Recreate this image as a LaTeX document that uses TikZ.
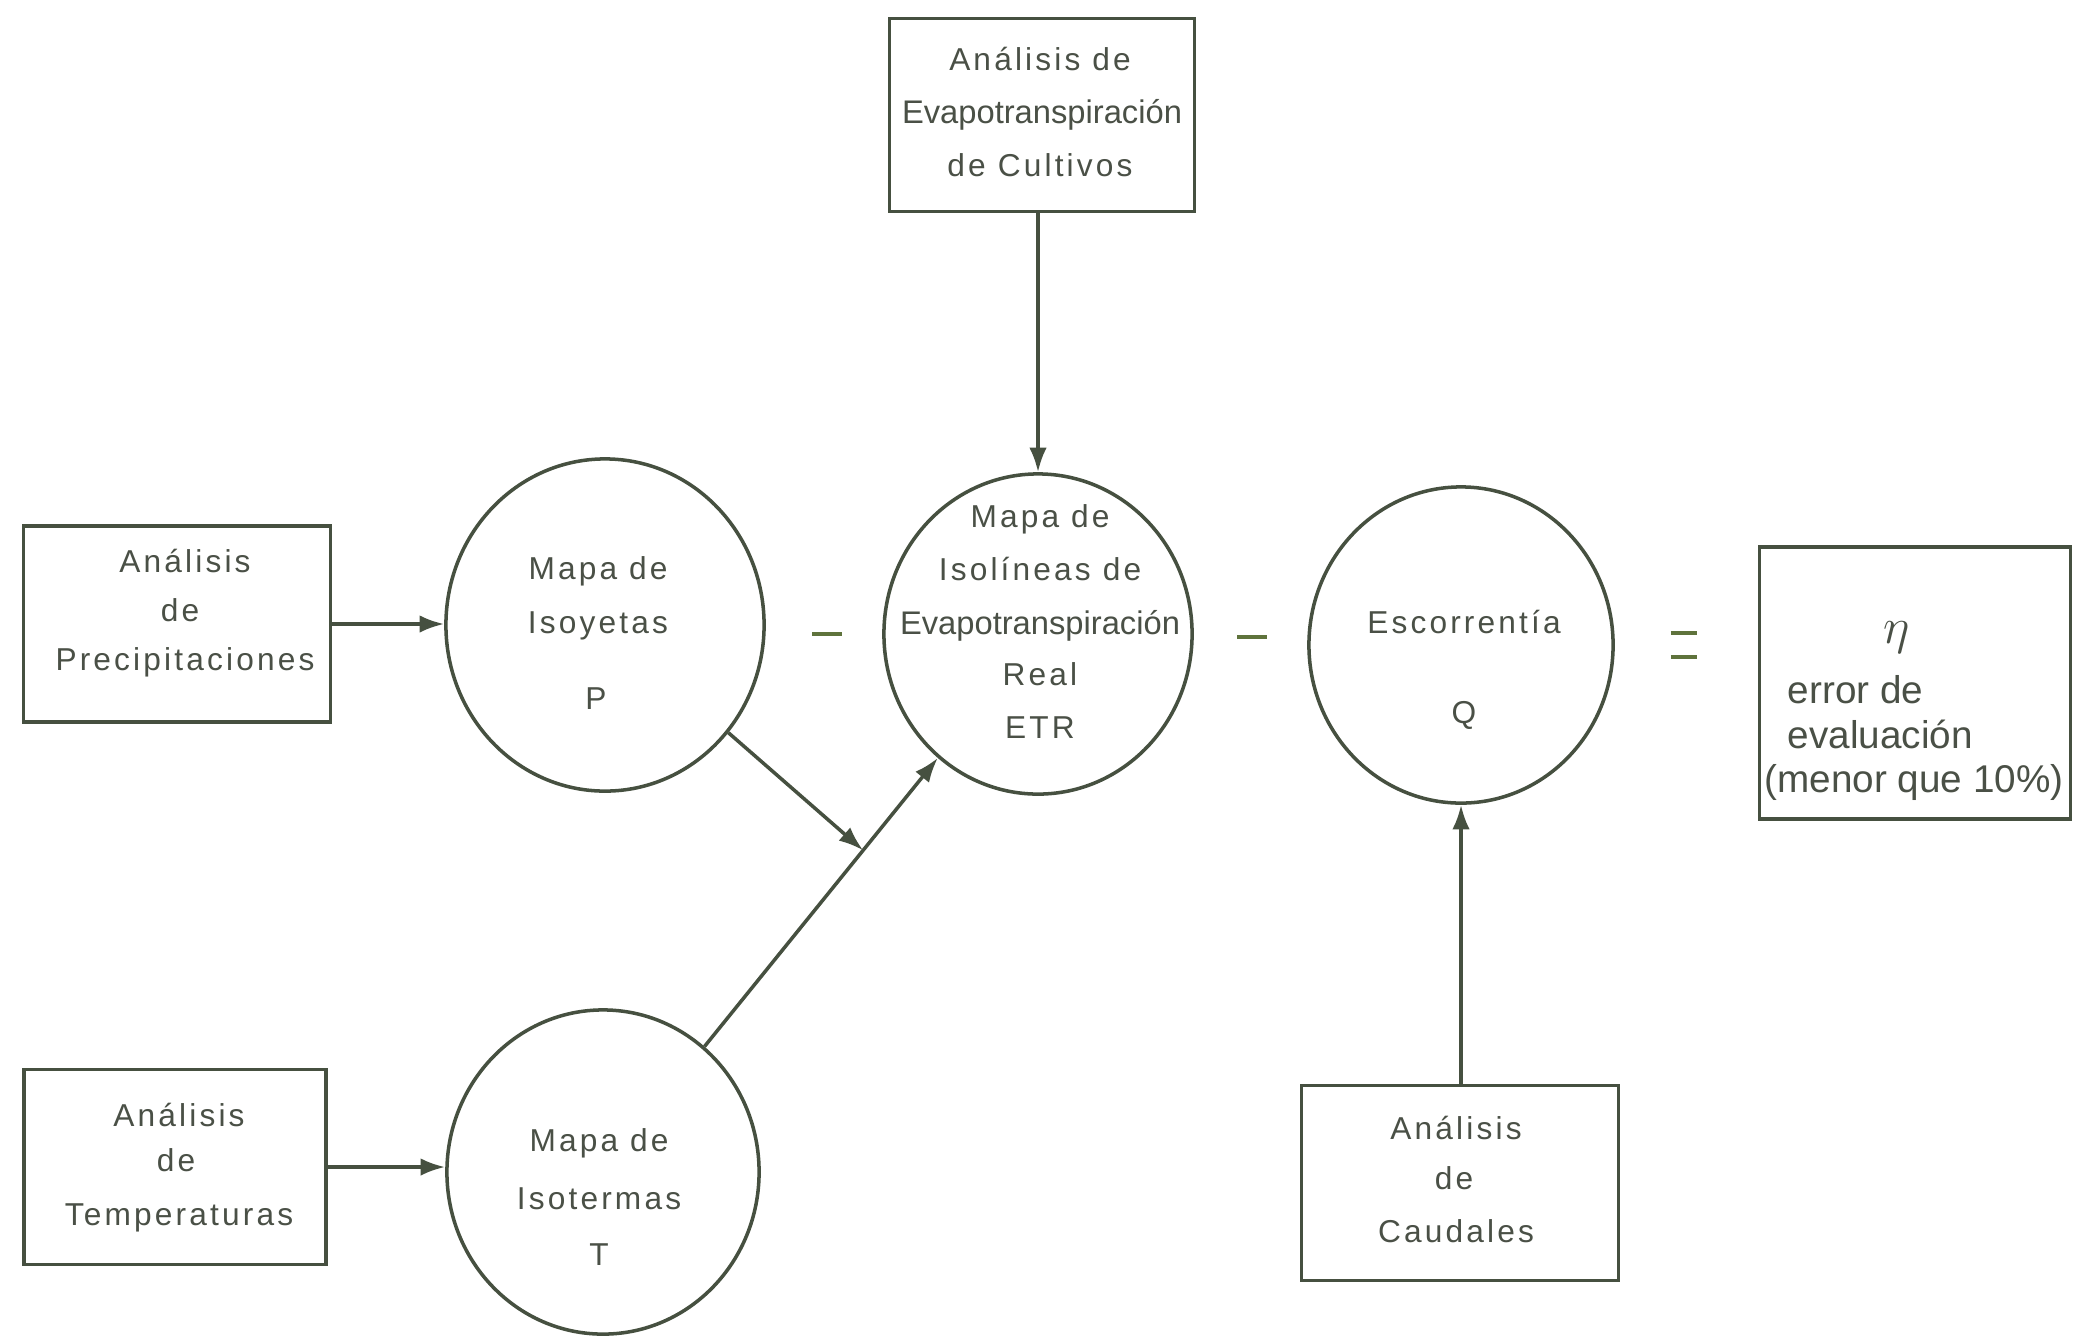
\documentclass[tikz,border=0pt]{standalone}
\usepackage{fontspec}
\setmainfont{Liberation Sans}
\newfontfamily\lettering[LetterSpace=10]{Liberation Sans}
\newfontfamily\plainlet{Liberation Sans}
\usetikzlibrary{arrows.meta,shapes.geometric}
\definecolor{ink}{RGB}{70,80,64}
\definecolor{inkt}{RGB}{74,80,70}
\definecolor{opc}{RGB}{95,115,60}
\newcommand\oprule{\rule{8.5pt}{1.1pt}}
\begin{document}
\begin{tikzpicture}[x=0.01cm,y=-0.01cm,
  box/.style={draw=ink,line width=1pt,rectangle,inner sep=0pt},
  ell/.style={draw=ink,line width=1pt,ellipse,inner sep=0pt},
  txt/.style={text=inkt,inner sep=0pt,anchor=base,font=\lettering\fontsize{9pt}{10pt}\selectfont},
  tight/.style={text=inkt,inner sep=0pt,anchor=base,font=\plainlet\fontsize{9.3pt}{10pt}\selectfont},
  hand/.style={text=inkt,inner sep=0pt,anchor=base west,font=\plainlet\fontsize{11pt}{12pt}\selectfont},
  op/.style={text=opc,inner sep=0pt},
  arr/.style={draw=ink,line width=1pt,-{Latex[length=7pt,width=5pt]}}]
\useasboundingbox[fill=white] (0,0) rectangle (2077,1336);

% boxes
\node[box,minimum width=3.05cm,minimum height=1.93cm] (cult) at (1042,115) {};
\node[box,minimum width=3.07cm,minimum height=1.96cm] (prec) at (177,624) {};
\node[box,minimum width=3.02cm,minimum height=1.95cm] (temp) at (175,1167) {};
\node[box,minimum width=3.17cm,minimum height=1.95cm] (caud) at (1460,1183) {};
\node[box,minimum width=3.11cm,minimum height=2.72cm] (eta) at (1915,683) {};

% ellipses
\node[ell,minimum width=3.18cm,minimum height=3.32cm] (iso) at (605,625) {};
\node[ell,minimum width=3.08cm,minimum height=3.20cm] (etr) at (1038,634) {};
\node[ell,minimum width=3.04cm,minimum height=3.16cm] (esc) at (1461,645) {};
\node[ell,minimum width=3.12cm,minimum height=3.24cm] (ist) at (603,1172) {};

% texts in boxes
\node[txt] (cult1) at (1040,70) {Análisis de};
\node[tight] (cult2) at (1042,123) {Evapotranspiración};
\node[txt] (cult3) at (1040,176) {de Cultivos};

\node[txt] (prec1) at (185,572) {Análisis};
\node[txt] (prec2) at (180,621) {de};
\node[txt] (prec3) at (185,670) {Precipitaciones};

\node[txt] (temp1) at (179,1126) {Análisis};
\node[txt] (temp2) at (176,1171) {de};
\node[txt] (temp3) at (179,1225) {Temperaturas};

\node[txt] (caud1) at (1456,1139) {Análisis};
\node[txt] (caud2) at (1454,1189) {de};
\node[txt] (caud3) at (1456,1242) {Caudales};

% texts in ellipses
\node[txt] (iso1) at (598,579) {Mapa de};
\node[txt] (iso2) at (598,633) {Isoyetas};
\node[txt] (iso3) at (596,709) {P};

\node[txt] (etr1) at (1040,527) {Mapa de};
\node[txt] (etr2) at (1040,580) {Isolíneas de};
\node[tight] (etr3) at (1040,634) {Evapotranspiración};
\node[txt] (etr4) at (1040,685) {Real};
\node[txt] (etr5) at (1040,738) {ETR};

\node[txt] (esc1) at (1464,633) {Escorrentía};
\node[txt] (esc2) at (1464,723) {Q};

\node[txt] (ist1) at (599,1151) {Mapa de};
\node[txt] (ist2) at (599,1209) {Isotermas};
\node[txt] (ist3) at (599,1265) {T};

% result box
\node[text=inkt,inner sep=0pt,font=\fontsize{15pt}{15pt}\selectfont] (eta0) at (1897,638) {$\eta$};
\node[hand] (eta1) at (1787,703) {error de};
\node[hand] (eta2) at (1787,748) {evaluación};
\node[hand] (eta3) at (1764,792) {(menor que 10\%)};

% operators
\node[op] (min1) at (827,634) {\oprule};
\node[op] (min2) at (1252,637) {\oprule};
\node[op] (eq) at (1684,645) {\vbox{\offinterlineskip\hbox{\rule{7.5pt}{1pt}}\vskip 5.8pt\hbox{\rule{7.5pt}{1pt}}}};

% connectors
\draw[arr] (prec.east) -- (prec.east -| iso.west);
\draw[arr] (temp.east) -- (temp.east -| ist.west);
\draw[arr] (cult.south -| etr.north) -- (etr.north);
\draw[arr] (caud.north -| esc.south) -- (esc.south);
\path (ist) -- (etr) coordinate[pos=0.68] (J);
\draw[arr] (ist) -- (etr);
\draw[arr] (iso) -- (J);
\end{tikzpicture}
\end{document}
